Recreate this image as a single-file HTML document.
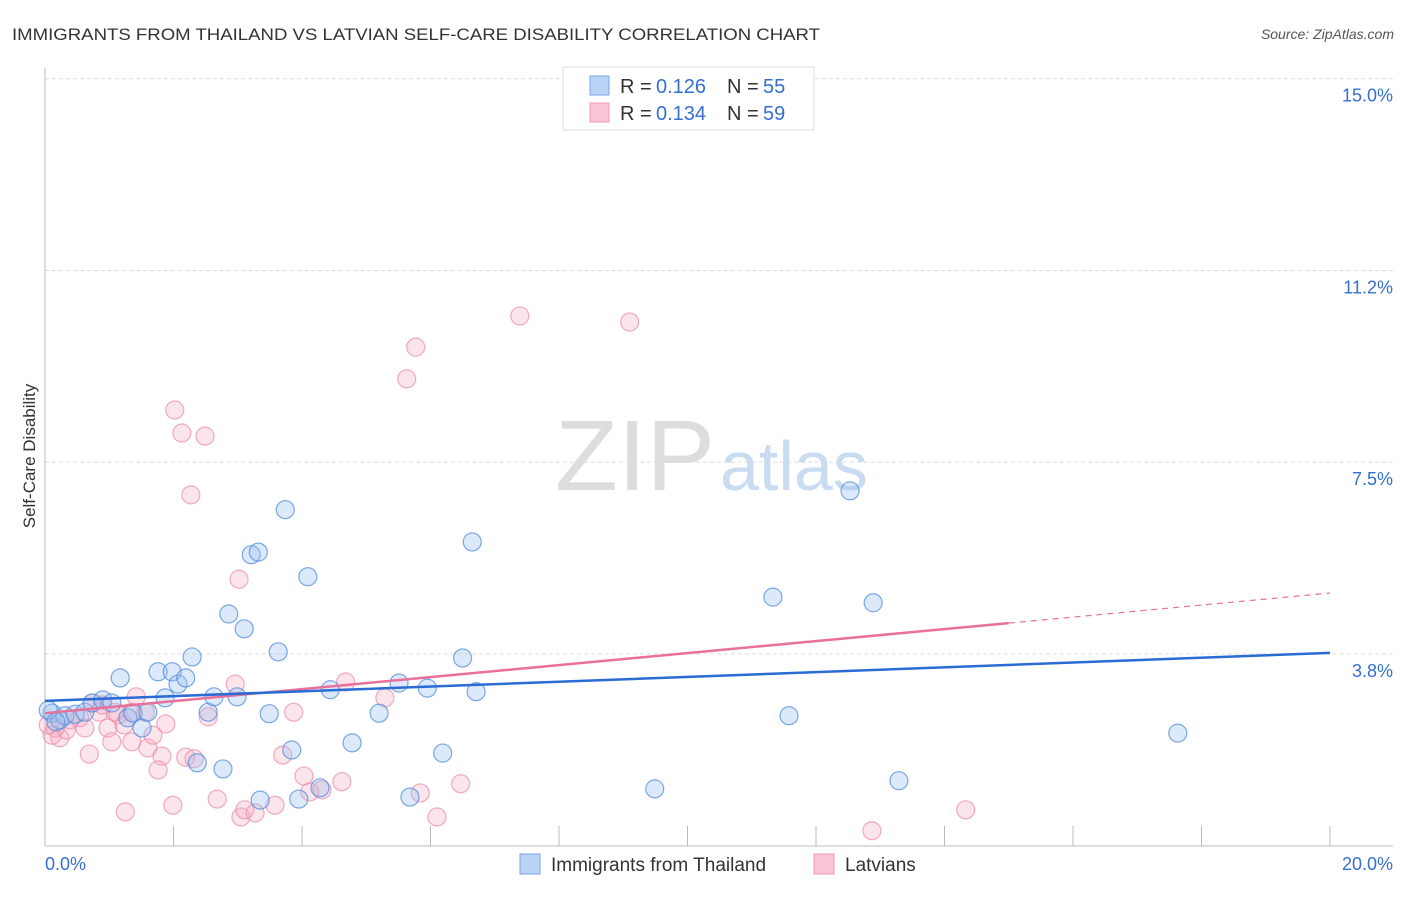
<!DOCTYPE html>
<html><head><meta charset="utf-8"><style>
body{margin:0;background:#fff;font-family:"Liberation Sans",sans-serif}
svg text{font-family:"Liberation Sans",sans-serif}
</style></head><body>
<svg id="c" width="1406" height="892">
<text x="12" y="40" font-size="17" fill="#333" textLength="808" lengthAdjust="spacingAndGlyphs">IMMIGRANTS FROM THAILAND VS LATVIAN SELF-CARE DISABILITY CORRELATION CHART</text>
<text x="1394" y="39" font-size="14" fill="#555" font-style="italic" text-anchor="end">Source: ZipAtlas.com</text>
<text x="35" y="456" font-size="17" fill="#333" text-anchor="middle" transform="rotate(-90 35 456)">Self-Care Disability</text>
<g id="grid"></g>
<text x="555" y="490" font-size="100" fill="#ddd" font-family="Liberation Serif" textLength="160" lengthAdjust="spacingAndGlyphs">ZIP</text>
<text x="720" y="490" font-size="70" fill="#c9dcf2">atlas</text>
<g id="pts"></g>
<g id="lines"></g>
<g>
<rect x="563" y="67" width="251" height="63" fill="#fff" stroke="#ddd"/>
<rect x="590" y="76" width="19" height="19" fill="#b9d3f5" stroke="#7aa6e6"/>
<rect x="590" y="103" width="19" height="19" fill="#fac6d6" stroke="#ee9ab4"/>
<text x="620" y="93" font-size="20" fill="#333">R =</text>
<text x="656" y="93" font-size="20" fill="#3570d0">0.126</text>
<text x="727" y="93" font-size="20" fill="#333">N =</text>
<text x="763" y="93" font-size="20" fill="#3570d0">55</text>
<text x="620" y="120" font-size="20" fill="#333">R =</text>
<text x="656" y="120" font-size="20" fill="#3570d0">0.134</text>
<text x="727" y="120" font-size="20" fill="#333">N =</text>
<text x="763" y="120" font-size="20" fill="#3570d0">59</text>
</g>
<g>
<rect x="520" y="854" width="20" height="20" fill="#b9d3f5" stroke="#7aa6e6"/>
<text x="551" y="871" font-size="19" fill="#333">Immigrants from Thailand</text>
<rect x="814" y="854" width="20" height="20" fill="#fac6d6" stroke="#ee9ab4"/>
<text x="845" y="871" font-size="19" fill="#333">Latvians</text>
</g>
<text x="45" y="870" font-size="18" fill="#3570d0">0.0%</text>
<text x="1393" y="870" font-size="18" fill="#3570d0" text-anchor="end">20.0%</text>
</svg>
<script>
const blueX=[.11,.23,.31,.47,.62,.73,.90,1.04,1.17,1.29,1.37,1.51,1.60,1.76,1.87,1.98,2.07,2.19,2.29,2.37,2.54,2.63,2.77,2.86,2.99,3.10,3.21,3.32,3.35,3.49,3.63,3.74,3.84,3.95,4.09,4.28,4.44,4.78,5.20,5.51,5.68,5.95,6.19,6.50,6.65,6.71,9.49,11.33,11.58,12.53,12.89,13.29,17.63,.05,.17];
const blueY=[2.59,2.46,2.54,2.57,2.61,2.79,2.85,2.79,3.28,2.50,2.59,2.30,2.61,3.40,2.89,3.40,3.16,3.28,3.69,1.62,2.61,2.91,1.50,4.53,2.91,4.24,5.69,5.74,.89,2.58,3.79,6.57,1.87,.91,5.26,1.13,3.05,2.01,2.59,3.18,.95,3.08,1.81,3.67,5.94,3.01,1.11,4.86,2.54,6.94,4.75,1.27,2.20,2.65,2.42];
const pinkX=[7.39,9.10,5.77,5.63,2.02,2.13,2.49,2.27,3.02,4.68,2.96,1.42,1.88,2.54,3.87,5.29,.75,.54,.62,.23,.16,.11,.39,1.09,1.14,.98,1.04,1.35,1.60,1.68,1.82,1.76,.69,1.25,1.99,2.19,2.32,2.68,3.05,3.11,3.27,3.58,3.70,4.03,4.12,4.31,4.62,5.84,6.10,6.47,12.87,14.33,1.56,.84,.33,1.23,1.35,.89,.05];
const pinkY=[10.36,10.24,9.75,9.13,8.52,8.07,8.01,6.86,5.21,3.20,3.16,2.91,2.38,2.52,2.61,2.89,2.79,2.50,2.30,2.11,2.30,2.16,2.46,2.61,2.56,2.30,2.03,2.03,1.91,2.16,1.75,1.48,1.79,.66,.79,1.73,1.70,.91,.56,.70,.64,.79,1.77,1.36,1.05,1.09,1.25,1.03,.56,1.21,.29,.70,2.61,2.61,2.26,2.36,2.61,2.75,2.36];
const blueTrend=[2.83,3.77];
const pinkTrend=[2.59,4.94];
const pinkSolidEnd=15;
const yTicks=[3.75,7.5,11.25,15];
const yTickLabels=["3.8%","7.5%","11.2%","15.0%"];
const xTicks=[2,4,6,8,10,12,14,16,18,20];
const X=v=>45+v/20*1285, Y=v=>845.6-v/0.01956;
const NS="http://www.w3.org/2000/svg";
function mk(t,a,p){const e=document.createElementNS(NS,t);for(const k in a)e.setAttribute(k,a[k]);p.appendChild(e);return e;}
const g=document.getElementById('grid');
yTicks.forEach((v,i)=>{
 const l=mk('line',{x1:45,x2:1393,y1:Y(v),y2:Y(v),stroke:'#ddd','stroke-dasharray':'4,3'},g);
 
 
 const t=mk('text',{x:1393,y:Y(v)+23,'font-size':18,fill:'#3570d0','text-anchor':'end'},g);
 t.textContent=yTickLabels[i];
 
 
});
mk('line',{x1:45,x2:45,y1:68,y2:846,stroke:'#bbb'},g);
mk('line',{x1:45,x2:1393,y1:846,y2:846,stroke:'#bbb'},g);
xTicks.forEach(v=>{
 const l=mk('line',{x1:X(v),x2:X(v),y1:826,y2:846,stroke:'#bbb'},g);
 
 
});
const p=document.getElementById('pts');
pinkX.forEach((x,i)=>{
 const c=mk('circle',{cx:X(x),cy:Y(pinkY[i]),r:9,fill:'rgba(246,165,190,0.3)',stroke:'rgba(235,143,174,0.75)','stroke-width':1.2},p);
 
 
});
blueX.forEach((x,i)=>{
 const c=mk('circle',{cx:X(x),cy:Y(blueY[i]),r:9,fill:'rgba(155,192,240,0.35)',stroke:'rgba(80,140,220,0.75)','stroke-width':1.2},p);
 
 
});
const L=document.getElementById('lines');
const pAt=v=>pinkTrend[0]+(pinkTrend[1]-pinkTrend[0])*v/20;
let a=mk('line',{x1:X(0),y1:Y(pinkTrend[0]),x2:X(pinkSolidEnd),y2:Y(pAt(pinkSolidEnd)),stroke:'#e8709a','stroke-width':2.5},L);


a=mk('line',{x1:X(pinkSolidEnd),y1:Y(pAt(pinkSolidEnd)),x2:X(20),y2:Y(pinkTrend[1]),stroke:'#e8709a','stroke-width':1.2,'stroke-dasharray':'6,5'},L);


a=mk('line',{x1:X(0),y1:Y(blueTrend[0]),x2:X(20),y2:Y(blueTrend[1]),stroke:'#2a6bd4','stroke-width':2.5},L);


</script>
</body></html>
